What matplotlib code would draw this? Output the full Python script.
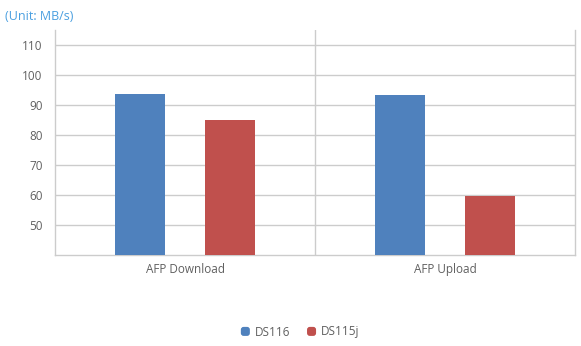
import matplotlib.pyplot as plt
from matplotlib.patches import FancyBboxPatch
from matplotlib.legend_handler import HandlerPatch
from matplotlib.patches import Patch
import numpy as np

plt.rcParams['font.family'] = ['Open Sans', 'DejaVu Sans']

categories = ['AFP Download', 'AFP Upload']
ds116 = [93.7, 93.3]
ds115j = [85.0, 59.7]
series_names = ['DS116', 'DS115j']
colors = ['#4F81BD', '#C0504D']

fig = plt.figure(figsize=(5.81, 3.46), dpi=100)
ax = fig.add_axes([55 / 581, 91 / 346, 520 / 581, 225 / 346])

x = np.arange(len(categories))
w = 0.192
off = 0.173
ax.bar(x - off, ds116, w, color=colors[0], zorder=3)
ax.bar(x + off, ds115j, w, color=colors[1], zorder=3)

ax.set_xlim(-0.5, len(categories) - 0.5)
ax.set_ylim(40, 115)
ax.set_yticks(range(50, 111, 10))
ax.set_xticks(x)
ax.set_xticklabels(categories)

grid_c = '#cccccc'
ax.grid(axis='y', color=grid_c, linewidth=1, zorder=0)
for xv in np.arange(0.5, len(categories) - 0.5, 1):
    ax.axvline(xv, color=grid_c, linewidth=1, zorder=0)
ax.spines['top'].set_visible(False)
for side in ['left', 'right', 'bottom']:
    ax.spines[side].set_color(grid_c)
    ax.spines[side].set_linewidth(1)
ax.tick_params(length=0, labelsize=8.5, colors='#606060', pad=6)
ax.tick_params(axis='y', pad=9)

fig.text(5 / 581, 1 - 17 / 346, '(Unit: MB/s)', color='#4a9fe0', fontsize=9, va='center')


# rounded square legend markers
class RoundSquare(HandlerPatch):
    def create_artists(self, legend, orig_handle, xdescent, ydescent,
                       width, height, fontsize, trans):
        s = min(width, height)
        p = FancyBboxPatch((-xdescent + (width - s) / 2, -ydescent + (height - s) / 2), s, s,
                           boxstyle='round,pad=0,rounding_size=2',
                           facecolor=orig_handle.get_facecolor(), edgecolor='none',
                           transform=trans)
        return [p]


handles = [Patch(facecolor=c, label=n) for c, n in zip(colors, series_names)]
fig.legend(handles=handles, loc='center', bbox_to_anchor=(300 / 581, 1 - 332 / 346), ncol=2,
           frameon=False, fontsize=8.5, handlelength=0.8, handleheight=0.8,
           handletextpad=0.4, columnspacing=1.4, labelcolor='#606060',
           handler_map={Patch: RoundSquare()})

fig.savefig('out.png', dpi=100)
